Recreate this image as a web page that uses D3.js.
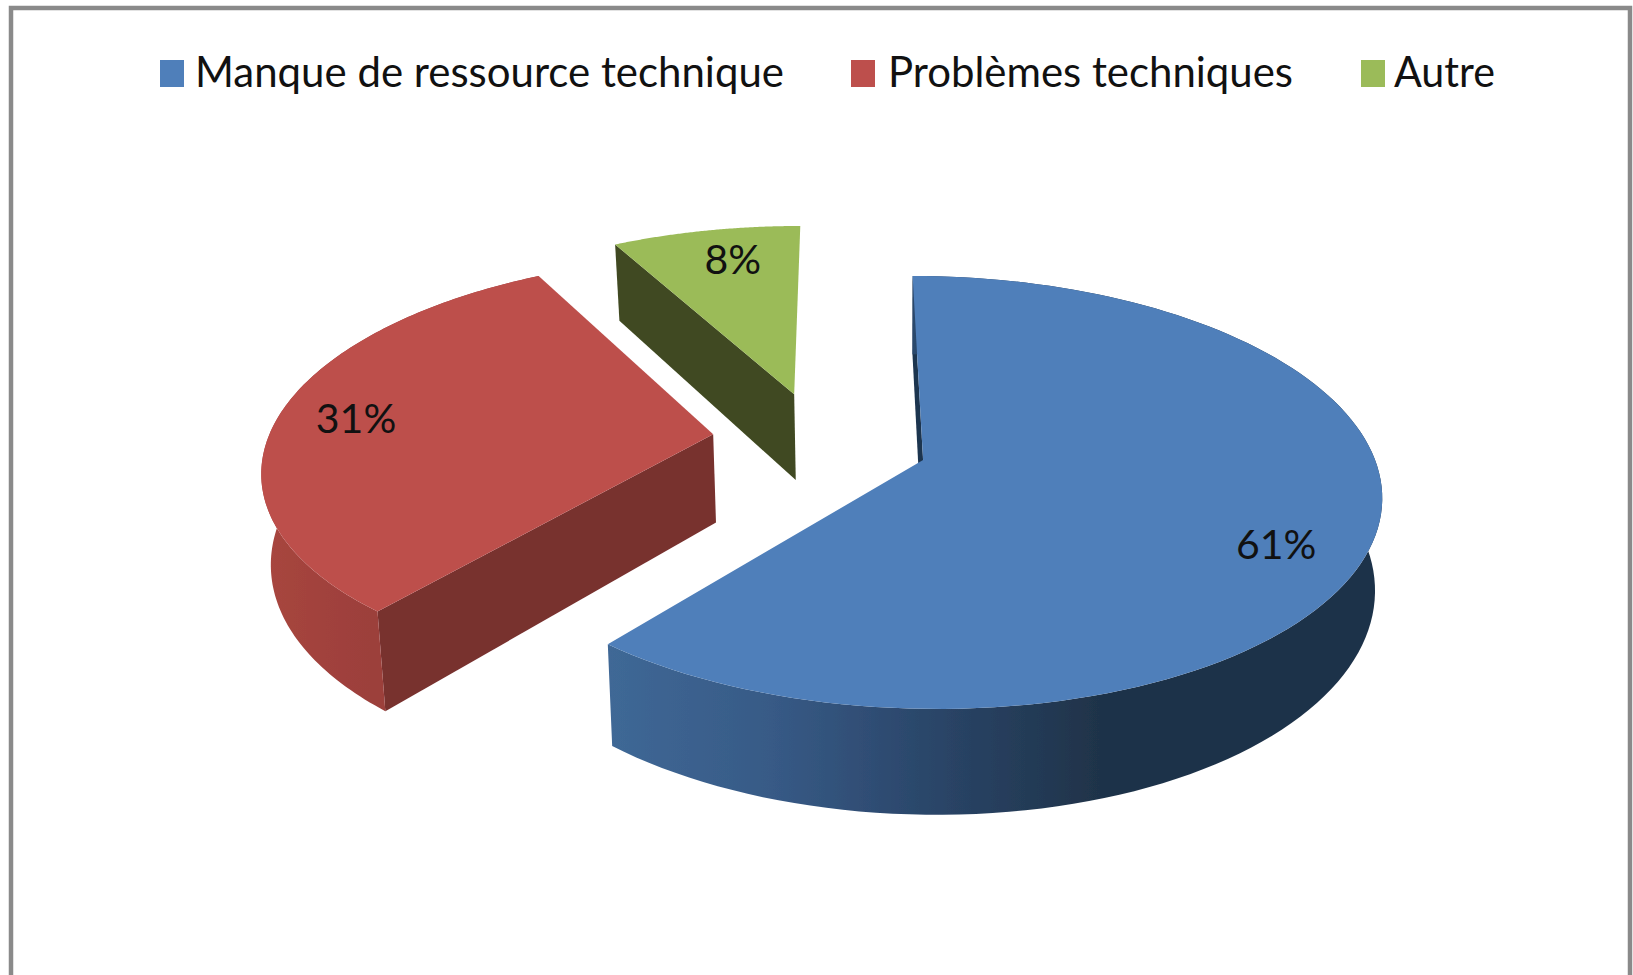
<!DOCTYPE html>
<html lang="fr"><head><meta charset="utf-8">
<script src="https://d3js.org/d3.v7.min.js"></script>
<style>html,body{margin:0;padding:0;background:#fff}svg{display:block}text{font-family:Lato,"Open Sans",sans-serif;fill:#111}</style>
</head><body>
<script>
const categories = ["Manque de ressource technique", "Problèmes techniques", "Autre"];
const values = [61, 31, 8];
const topColours = ["#4f7fba", "#bd4f4c", "#9bbb59"];
const edgeColours = ["#1f3550", "#78302e", "#404a20"];
const wallStops = [["#3f6896", "#375a86", "#2a4568", "#1f3349"], ["#a8463f", "#9c3f3b"], ["#404a20", "#404a20"]];
const legendX = [160, 851, 1361];
const legendTextX = [195, 888, 1394];
const legendWidths = [589, 405, 101];
const sliceNudge = [[0, 0], [-0.005, -0.02], [-0.005, -0.012]];
const labelNudge = [[-5, 24], [-9, -2], [11, -2]];

const W = 1633, H = 975;
const R = 452, A = 211.6, K = 0.15, SHEAR = 12, DEPTH = 90, EXPLODE = 0.24;
const ORIGIN_X = 923, ORIGIN_Y = 460, CENTRE_U = -0.2256, CENTRE_V = -0.0814;
const FLOOR_SCALE = 0.985, FLOOR_X = 900, LABEL_R = 0.8;

const svg = d3.select("body").append("svg").attr("width", W).attr("height", H);
const defs = svg.append("defs");
defs.append("filter").attr("id", "soft").attr("x", "-2%").attr("y", "-2%").attr("width", "104%").attr("height", "104%")
  .append("feGaussianBlur").attr("stdDeviation", 0.6);

// frame: open at the bottom
svg.append("path").attr("d", d3.line()([[11, H], [11, 8], [1630, 8], [1630, H]]))
  .attr("fill", "none").attr("stroke", "#8a8a8a").attr("stroke-width", 4.5);

// perspective projection of the pie plane
function project(u, v, floor) {
  const U = u + CENTRE_U, V = v + CENTRE_V, w = 1 - K * V;
  let x = ORIGIN_X + (R * U + SHEAR * V) / w;
  let y = ORIGIN_Y + A * V / w;
  if (floor) { x = FLOOR_X + (x - FLOOR_X) * FLOOR_SCALE; y += DEPTH / w; }
  return [x, y];
}
const dir = a => [Math.sin(a), -Math.cos(a)];
const slices = d3.pie().sort(null).startAngle(0).endAngle(2 * Math.PI)(values);
const line = d3.line();

const model = slices.map((s, i) => {
  const mid = (s.startAngle + s.endAngle) / 2;
  const [dx, dy] = dir(mid);
  const o = [dx * EXPLODE + sliceNudge[i][0], dy * EXPLODE + sliceNudge[i][1]];
  const angles = d3.range(0, 121).map(t => s.startAngle + (s.endAngle - s.startAngle) * t / 120);
  const rim = angles.map(a => { const d = dir(a); return [o[0] + d[0], o[1] + d[1]]; });
  return { i, mid, o, rim };
});

const g = svg.append("g").attr("filter", "url(#soft)");

// wall gradients
model.forEach(m => {
  const xs = m.rim.map(p => project(p[0], p[1])[0]);
  const stops = wallStops[m.i];
  const grad = defs.append("linearGradient").attr("id", "wall" + m.i).attr("gradientUnits", "userSpaceOnUse")
    .attr("x1", d3.min(xs)).attr("x2", m.i === 0 ? 1100 : d3.min(xs) + 110).attr("y1", 0).attr("y2", 0);
  stops.forEach((c, k) => grad.append("stop").attr("offset", k / (stops.length - 1)).attr("stop-color", c));
});

// side walls first; only the cut at the start of each slice and the front rims can be seen
model.forEach(m => {
  const a = m.o, b = m.rim[0];
  const quad = line([project(a[0], a[1]), project(b[0], b[1]), project(b[0], b[1], true), project(a[0], a[1], true)]) + "Z";
  g.append("path").attr("d", quad).attr("fill", edgeColours[m.i]);
  if (dir(m.mid)[1] > -0.5) {
    const outer = m.rim.map(p => project(p[0], p[1])).concat(m.rim.slice().reverse().map(p => project(p[0], p[1], true)));
    g.append("path").attr("d", line(outer) + "Z").attr("fill", `url(#wall${m.i})`);
  }
});
// top faces
model.forEach(m => {
  const top = [project(m.o[0], m.o[1])].concat(m.rim.map(p => project(p[0], p[1])));
  g.append("path").attr("d", line(top) + "Z").attr("fill", topColours[m.i]);
});

// data labels
model.forEach(m => {
  const d = dir(m.mid);
  const [x, y] = project(m.o[0] + d[0] * LABEL_R, m.o[1] + d[1] * LABEL_R);
  svg.append("text").attr("x", x + labelNudge[m.i][0]).attr("y", y + labelNudge[m.i][1])
    .attr("text-anchor", "middle").attr("dominant-baseline", "central")
    .attr("font-size", 41).text(values[m.i] + "%");
});

// legend
categories.forEach((c, i) => {
  svg.append("rect").attr("x", legendX[i]).attr("y", 60).attr("width", 24).attr("height", 27).attr("fill", topColours[i]);
  svg.append("text").attr("x", legendTextX[i]).attr("y", 87).attr("font-size", 42)
    .attr("textLength", legendWidths[i]).attr("lengthAdjust", "spacingAndGlyphs").text(c);
});
</script>
</body></html>
